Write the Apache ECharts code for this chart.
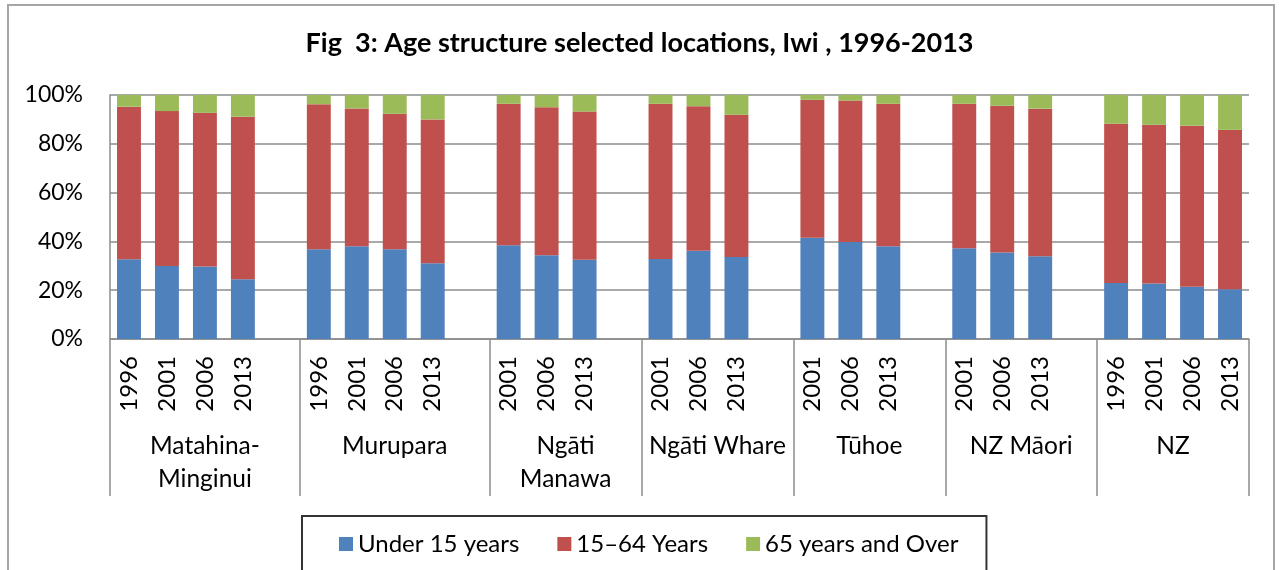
<!DOCTYPE html>
<html>
<head>
<meta charset="utf-8">
<script src="https://cdn.jsdelivr.net/npm/echarts@6/dist/echarts.min.js"></script>
<style>
html,body{margin:0;padding:0;background:#fff;}
#wrap{position:relative;width:1279px;height:570px;overflow:hidden;}
#chart{position:absolute;left:0;top:0;width:1279px;height:570px;}
#frame{position:absolute;left:7px;top:4px;width:1268px;height:620px;border:2px solid #a6a6a6;pointer-events:none;box-sizing:border-box;}
</style>
</head>
<body>
<div id="wrap"><div id="chart"></div><div id="frame"></div></div>
<script>
const titleText = 'Fig  3: Age structure selected locations, Iwi , 1996-2013';
const groupNames = ['Matahina-\nMinginui', 'Murupara', 'Ngāti\nManawa', 'Ngāti Whare', 'Tūhoe', 'NZ Māori', 'NZ'];
// '' marks the empty spacer slot between groups
const yearLabels = ['1996','2001','2006','2013','',
                    '1996','2001','2006','2013','',
                    '2001','2006','2013','',
                    '2001','2006','2013','',
                    '2001','2006','2013','',
                    '2001','2006','2013','',
                    '1996','2001','2006','2013'];
const under15 = [32.7,29.9,29.7,24.5,null,
                 36.8,38.0,36.8,31.0,null,
                 38.4,34.3,32.5,null,
                 32.8,36.2,33.6,null,
                 41.5,39.8,38.0,null,
                 37.2,35.4,33.9,null,
                 22.9,22.7,21.4,20.4];
const age15to64 = [62.5,63.5,63.0,66.6,null,
                   59.4,56.5,55.5,59.0,null,
                   58.0,60.7,60.7,null,
                   63.6,59.2,58.3,null,
                   56.5,57.9,58.4,null,
                   59.2,60.2,60.5,null,
                   65.3,65.1,66.0,65.3];
const age65plus = [4.8,6.6,7.3,8.9,null,
                   3.8,5.5,7.7,10.0,null,
                   3.6,5.0,6.8,null,
                   3.6,4.6,8.1,null,
                   2.0,2.3,3.6,null,
                   3.6,4.4,5.6,null,
                   11.8,12.2,12.6,14.3];
const seriesNames = ['Under 15 years', '15–64 Years', '65 years and Over'];
const yTicks = [0, 20, 40, 60, 80, 100];

// Build group-level axis on a half-slot grid (boundaries + centres)
const nSlots = yearLabels.length;
const groupAxis = new Array(nSlots * 2 + 1).fill('');
const sepIdx = [0];
let start = 0, g = 0;
for (let i = 0; i <= nSlots; i++) {
  if (i === nSlots || yearLabels[i] === '') {
    const end = (i === nSlots) ? i : i + 1;   // spacer belongs to group
    groupAxis[start + end] = groupNames[g];   // centre in half-slot units
    sepIdx.push(end * 2);
    start = end; g++;
  }
}

const chart = echarts.init(document.getElementById('chart'));
const FONT = 'Lato';
const gridColor = '#8c8c8c';
chart.setOption({
  animation: false,
  textStyle: { fontFamily: FONT },
  title: {
    text: titleText, left: 'center', top: 25,
    textStyle: { fontFamily: FONT, fontWeight: 'bold', fontSize: 27, color: '#000' }
  },
  color: ['#4F81BD', '#C0504D', '#9BBB59'],
  legend: {
    data: seriesNames, left: 302, top: 516,
    icon: 'rect', itemWidth: 14, itemHeight: 14, itemGap: 38,
    borderColor: '#333', borderWidth: 2, padding: [16, 28, 40, 37],
    textStyle: { fontFamily: FONT, fontSize: 24, color: '#000' }
  },
  grid: { left: 110, right: 30, top: 95, bottom: 231, containLabel: false },
  xAxis: [
    {
      type: 'category', data: yearLabels, position: 'bottom',
      axisLine: { lineStyle: { color: gridColor, width: 1.5 } },
      axisTick: { show: false },
      axisLabel: { interval: 0, rotate: 90, margin: 17, fontSize: 24, color: '#000', fontFamily: FONT }
    },
    {
      type: 'category', data: groupAxis, position: 'bottom', boundaryGap: false,
      axisLine: { show: false },
      axisTick: { show: true, length: 157, interval: (idx) => sepIdx.includes(idx),
                  lineStyle: { color: gridColor, width: 1.5 } },
      axisLabel: { interval: 0, margin: 91, fontSize: 24.5, lineHeight: 33, color: '#000', fontFamily: FONT, align: 'center' }
    }
  ],
  yAxis: {
    type: 'value', min: yTicks[0], max: yTicks[yTicks.length - 1], interval: 20,
    axisLine: { show: true, lineStyle: { color: gridColor, width: 1.5 } },
    axisTick: { show: false },
    splitLine: { lineStyle: { color: gridColor, width: 1.5 } },
    axisLabel: { formatter: '{value}%', fontSize: 23, color: '#000', margin: 27, fontFamily: FONT }
  },
  series: [
    { name: seriesNames[0], type: 'bar', stack: 'a', data: under15, barCategoryGap: '37%', xAxisIndex: 0 },
    { name: seriesNames[1], type: 'bar', stack: 'a', data: age15to64, barCategoryGap: '37%', xAxisIndex: 0 },
    { name: seriesNames[2], type: 'bar', stack: 'a', data: age65plus, barCategoryGap: '37%', xAxisIndex: 0 }
  ]
});
</script>
</body>
</html>
